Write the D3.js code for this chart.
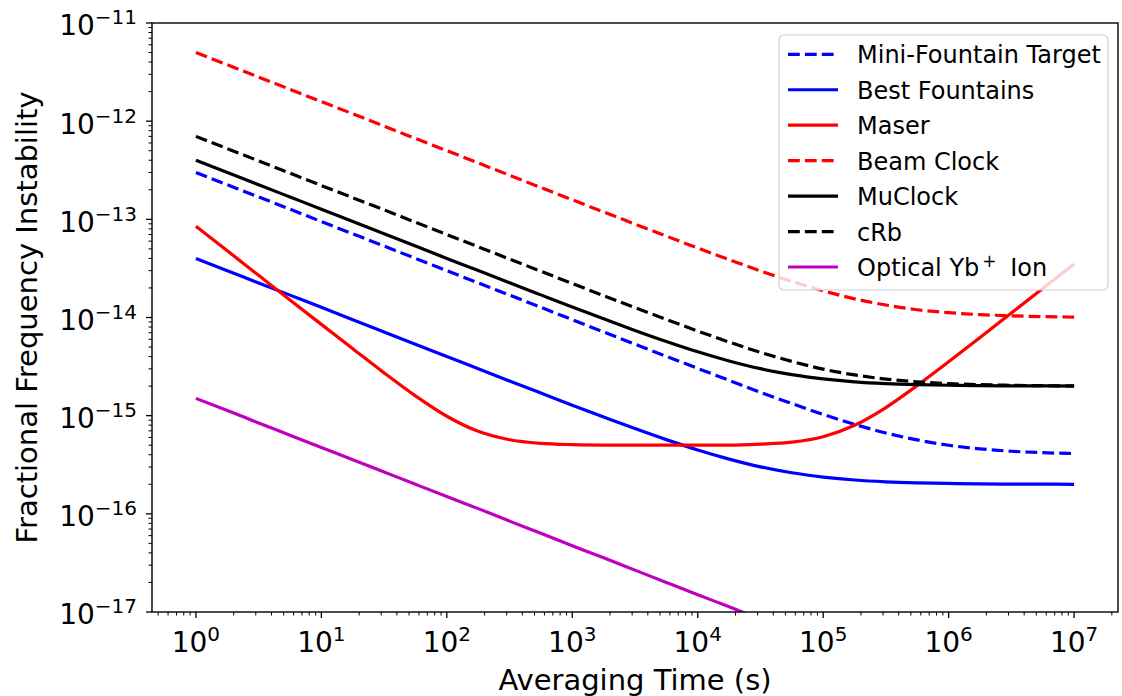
<!DOCTYPE html>
<html>
<head>
<meta charset="utf-8">
<script src="https://cdn.jsdelivr.net/npm/d3@7"></script>
<style>
  body { margin: 0; background: #fff; }
  svg { display: block; font-family: "DejaVu Sans", sans-serif; }
</style>
</head>
<body>
<svg id="chart" width="1122" height="696"></svg>
<script>
// averaging times (s), quarter-decade steps
const taus = [1, 1.78, 3.16, 5.62, 10, 17.8, 31.6, 56.2, 100, 178, 316, 562,
  1e3, 1.78e3, 3.16e3, 5.62e3, 1e4, 1.78e4, 3.16e4, 5.62e4, 1e5, 1.78e5, 3.16e5, 5.62e5,
  1e6, 1.78e6, 3.16e6, 5.62e6, 1e7];

const miniFountain = [3.00e-13, 2.25e-13, 1.69e-13, 1.27e-13, 9.49e-14, 7.11e-14, 5.34e-14, 4.00e-14,
  3.00e-14, 2.25e-14, 1.69e-14, 1.27e-14, 9.50e-15, 7.12e-15, 5.35e-15, 4.02e-15, 3.03e-15, 2.29e-15,
  1.73e-15, 1.33e-15, 1.03e-15, 8.16e-16, 6.67e-16, 5.66e-16, 5.00e-16, 4.59e-16, 4.34e-16, 4.20e-16, 4.11e-16];
const bestFountains = [4.00e-14, 3.00e-14, 2.25e-14, 1.69e-14, 1.27e-14, 9.49e-15, 7.12e-15, 5.34e-15,
  4.00e-15, 3.01e-15, 2.26e-15, 1.70e-15, 1.28e-15, 9.70e-16, 7.39e-16, 5.70e-16, 4.47e-16, 3.61e-16,
  3.01e-16, 2.62e-16, 2.37e-16, 2.21e-16, 2.12e-16, 2.07e-16, 2.04e-16, 2.02e-16, 2.01e-16, 2.01e-16, 2.00e-16];
const maser = [8.50e-14, 4.78e-14, 2.69e-14, 1.51e-14, 8.51e-15, 4.81e-15, 2.73e-15, 1.59e-15,
  9.86e-16, 6.92e-16, 5.68e-16, 5.22e-16, 5.07e-16, 5.02e-16, 5.01e-16, 5.00e-16, 5.00e-16, 5.00e-16,
  5.12e-16, 5.37e-16, 6.10e-16, 7.98e-16, 1.21e-15, 2.03e-15, 3.54e-15, 6.24e-15, 1.11e-14, 1.97e-14, 3.50e-14];
const beamClock = [5.00e-12, 3.75e-12, 2.81e-12, 2.11e-12, 1.58e-12, 1.19e-12, 8.89e-13, 6.67e-13,
  5.00e-13, 3.75e-13, 2.81e-13, 2.11e-13, 1.58e-13, 1.19e-13, 8.95e-14, 6.74e-14, 5.10e-14, 3.88e-14,
  2.98e-14, 2.33e-14, 1.87e-14, 1.55e-14, 1.34e-14, 1.20e-14, 1.12e-14, 1.07e-14, 1.04e-14, 1.02e-14, 1.01e-14];
const muClock = [4.00e-13, 3.00e-13, 2.25e-13, 1.69e-13, 1.27e-13, 9.49e-14, 7.12e-14, 5.34e-14,
  4.00e-14, 3.01e-14, 2.26e-14, 1.70e-14, 1.28e-14, 9.70e-15, 7.39e-15, 5.70e-15, 4.47e-15, 3.61e-15,
  3.01e-15, 2.62e-15, 2.37e-15, 2.21e-15, 2.12e-15, 2.07e-15, 2.04e-15, 2.02e-15, 2.01e-15, 2.01e-15, 2.00e-15];
const cRb = [7.00e-13, 5.25e-13, 3.94e-13, 2.95e-13, 2.21e-13, 1.66e-13, 1.25e-13, 9.34e-14,
  7.00e-14, 5.25e-14, 3.94e-14, 2.96e-14, 2.22e-14, 1.67e-14, 1.26e-14, 9.55e-15, 7.28e-15, 5.62e-15,
  4.41e-15, 3.57e-15, 2.98e-15, 2.60e-15, 2.36e-15, 2.21e-15, 2.12e-15, 2.07e-15, 2.04e-15, 2.02e-15, 2.01e-15];
const ybIon = [1.50e-15, 1.13e-15, 8.43e-16, 6.33e-16, 4.74e-16, 3.56e-16, 2.67e-16, 2.00e-16,
  1.50e-16, 1.13e-16, 8.43e-17, 6.33e-17, 4.74e-17, 3.56e-17, 2.67e-17, 2.00e-17, 1.50e-17, 1.13e-17,
  8.43e-18, 6.33e-18, 4.74e-18, 3.56e-18, 2.67e-18, 2.00e-18, 1.50e-18, 1.13e-18, 8.43e-19, 6.33e-19, 4.74e-19];

const xExponents = [0, 1, 2, 3, 4, 5, 6, 7];
const yExponents = [-17, -16, -15, -14, -13, -12, -11];

const series = [
  { name: 'Mini-Fountain Target', values: miniFountain, color: '#0000ff', dash: true },
  { name: 'Best Fountains', values: bestFountains, color: '#0000ff', dash: false },
  { name: 'Maser', values: maser, color: '#ff0000', dash: false },
  { name: 'Beam Clock', values: beamClock, color: '#ff0000', dash: true },
  { name: 'MuClock', values: muClock, color: '#000000', dash: false },
  { name: 'cRb', values: cRb, color: '#000000', dash: true },
  { name: 'Optical Yb', sup: '+', tail: ' Ion', values: ybIon, color: '#bf00bf', dash: false }
];

const DASH = '11.8,5.1';
const LW = 3.2;

const svg = d3.select('#chart');
const M = { left: 152, right: 1118, top: 23, bottom: 612 };

const x = d3.scaleLog().domain([Math.pow(10, -0.35), Math.pow(10, 7.35)]).range([M.left, M.right]);
const y = d3.scaleLog().domain([1e-17, 1e-11]).range([M.bottom, M.top]);

// clip to plot area
svg.append('defs').append('clipPath').attr('id', 'plot-clip')
  .append('rect').attr('x', M.left).attr('y', M.top)
  .attr('width', M.right - M.left).attr('height', M.bottom - M.top);

const line = d3.line()
  .x(d => x(d[0]))
  .y(d => y(d[1]))
  .curve(d3.curveMonotoneX);

const lines = svg.append('g').attr('clip-path', 'url(#plot-clip)');
series.forEach(s => {
  lines.append('path')
    .datum(taus.map((t, i) => [t, s.values[i]]))
    .attr('d', line)
    .attr('fill', 'none')
    .attr('stroke', s.color)
    .attr('stroke-width', LW)
    .attr('stroke-dasharray', s.dash ? DASH : null);
});

// minor tick positions for log axes
function minorTicks(scale) {
  const [a, b] = scale.domain();
  const out = [];
  for (let e = Math.floor(Math.log10(a)); e <= Math.ceil(Math.log10(b)); e++) {
    for (let m = 2; m <= 9; m++) {
      const v = m * Math.pow(10, e);
      if (v >= a && v <= b) out.push(v);
    }
  }
  return out;
}

const axes = svg.append('g').attr('stroke', '#000').attr('stroke-width', 1.3);

// x ticks
xExponents.forEach(e => {
  const px = x(Math.pow(10, e));
  axes.append('line').attr('x1', px).attr('x2', px).attr('y1', M.bottom).attr('y2', M.bottom + 6);
});
minorTicks(x).forEach(v => {
  axes.append('line').attr('x1', x(v)).attr('x2', x(v))
    .attr('y1', M.bottom).attr('y2', M.bottom + 3.5).attr('stroke-width', 1);
});
// y ticks
yExponents.forEach(e => {
  const py = y(Math.pow(10, e));
  axes.append('line').attr('x1', M.left - 6).attr('x2', M.left).attr('y1', py).attr('y2', py);
});
minorTicks(y).forEach(v => {
  axes.append('line').attr('x1', M.left - 3.5).attr('x2', M.left)
    .attr('y1', y(v)).attr('y2', y(v)).attr('stroke-width', 1);
});

// frame
svg.append('rect')
  .attr('x', M.left).attr('y', M.top).attr('width', M.right - M.left).attr('height', M.bottom - M.top)
  .attr('fill', 'none').attr('stroke', '#000').attr('stroke-width', 1.4);

// power-of-ten label: 10 with superscript
function powLabel(g, px, py, e, anchor) {
  const t = g.append('text')
    .attr('x', px).attr('y', py)
    .attr('text-anchor', anchor)
    .attr('font-size', 28);
  t.append('tspan').text('10');
  t.append('tspan').attr('font-size', 20).attr('dy', -11)
    .text(String(e).replace('-', '\u2212'));
}

const labels = svg.append('g').attr('fill', '#000');
xExponents.forEach(e => powLabel(labels, x(Math.pow(10, e)), 652, e, 'middle'));
yExponents.forEach(e => powLabel(labels, 137, y(Math.pow(10, e)) + 12.4, e, 'end'));

// axis titles
svg.append('text')
  .attr('x', (M.left + M.right) / 2).attr('y', 690)
  .attr('text-anchor', 'middle').attr('font-size', 29)
  .text('Averaging Time (s)');
svg.append('text')
  .attr('transform', `translate(37, ${(M.top + M.bottom) / 2}) rotate(-90)`)
  .attr('text-anchor', 'middle').attr('font-size', 29)
  .text('Fractional Frequency Instability');

// legend
const lg = svg.append('g');
lg.append('rect')
  .attr('x', 779).attr('y', 35).attr('width', 329).attr('height', 255)
  .attr('rx', 5).attr('ry', 5)
  .attr('fill', '#fff').attr('fill-opacity', 0.8)
  .attr('stroke', '#d0d0d0').attr('stroke-width', 1.2);

const rowH = 35.45;
series.forEach((s, i) => {
  const cy = 54.3 + i * rowH;
  lg.append('line')
    .attr('x1', 788).attr('x2', 838).attr('y1', cy).attr('y2', cy)
    .attr('stroke', s.color).attr('stroke-width', LW)
    .attr('stroke-dasharray', s.dash ? DASH : null);
  const t = lg.append('text')
    .attr('x', 857).attr('y', cy + 9)
    .attr('font-size', 24);
  t.append('tspan').text(s.name);
  if (s.sup) {
    t.append('tspan').attr('font-size', 17).attr('dy', -9).attr('dx', 3).text(s.sup);
    t.append('tspan').attr('dy', 9).attr('dx', 6).text(s.tail);
  }
});
</script>
</body>
</html>
